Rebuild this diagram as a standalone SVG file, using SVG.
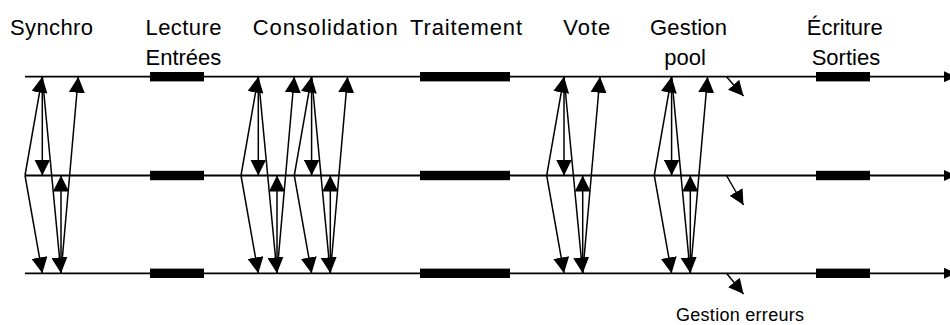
<svg xmlns="http://www.w3.org/2000/svg" width="950" height="325" viewBox="0 0 950 325">
  <style>
    .lbl { font-family: "Liberation Sans", Arial, sans-serif; font-size: 22px; fill: #000; }
    .sml { font-family: "Liberation Sans", Arial, sans-serif; font-size: 18px; fill: #000; }
    .tl { stroke: #000; stroke-width: 1.8; fill: none; }
    .msg { stroke: #000; stroke-width: 1.5; fill: none; marker-end: url(#ah); }
    .err { stroke: #000; stroke-width: 1.5; fill: none; marker-end: url(#ahs); }
    .bar { fill: #000; }
  </style>
  <defs>
    <marker id="ah" viewBox="0 0 16 16" refX="16" refY="8" markerWidth="16" markerHeight="16" markerUnits="userSpaceOnUse" orient="auto">
      <path d="M0,0 L16,8 L0,16 z" fill="#000"/>
    </marker>
    <marker id="ahs" viewBox="0 0 15 15" refX="15" refY="7.5" markerWidth="15" markerHeight="15" markerUnits="userSpaceOnUse" orient="auto">
      <path d="M0,0 L15,7.5 L0,15 z" fill="#000"/>
    </marker>
    <marker id="ahl" viewBox="0 0 12 11" refX="12" refY="5.5" markerWidth="12" markerHeight="11" markerUnits="userSpaceOnUse" orient="auto">
      <path d="M0,0 L12,5.5 L0,11 z" fill="#000"/>
    </marker>
  </defs>

  <g id="labels">
    <text class="lbl" x="10" y="35" textLength="83" lengthAdjust="spacing">Synchro</text>
    <text class="lbl" x="145.5" y="35" textLength="76" lengthAdjust="spacing">Lecture</text>
    <text class="lbl" x="145.5" y="65">Entrées</text>
    <text class="lbl" x="252.7" y="35" textLength="145" lengthAdjust="spacing">Consolidation</text>
    <text class="lbl" x="410" y="35" textLength="112" lengthAdjust="spacing">Traitement</text>
    <text class="lbl" x="563.3" y="35" textLength="47" lengthAdjust="spacing">Vote</text>
    <text class="lbl" x="650" y="35" textLength="77" lengthAdjust="spacing">Gestion</text>
    <text class="lbl" x="685" y="65" text-anchor="middle">pool</text>
    <text class="lbl" x="806.7" y="35" textLength="76" lengthAdjust="spacing">Écriture</text>
    <text class="lbl" x="811.7" y="65">Sorties</text>
    <text class="sml" x="676" y="321" textLength="128" lengthAdjust="spacing">Gestion erreurs</text>
  </g>

  <g id="timelines">
    <line class="tl" x1="25" y1="76.7" x2="956" y2="76.7" marker-end="url(#ahl)"/>
    <line class="tl" x1="25" y1="175.5" x2="956" y2="175.5" marker-end="url(#ahl)"/>
    <line class="tl" x1="25" y1="273.3" x2="956" y2="273.3" marker-end="url(#ahl)"/>
  </g>

  <g id="bars">
    <rect class="bar" x="150" y="72" width="54" height="9.4"/>
    <rect class="bar" x="420" y="72" width="90" height="9.4"/>
    <rect class="bar" x="816" y="72" width="54" height="9.4"/>
    <rect class="bar" x="150" y="170.8" width="54" height="9.4"/>
    <rect class="bar" x="420" y="170.8" width="90" height="9.4"/>
    <rect class="bar" x="816" y="170.8" width="54" height="9.4"/>
    <rect class="bar" x="150" y="268.6" width="54" height="9.4"/>
    <rect class="bar" x="420" y="268.6" width="90" height="9.4"/>
    <rect class="bar" x="816" y="268.6" width="54" height="9.4"/>
  </g>

  <g id="connectors">
    <g id="sync-synchro">
      <line class="msg" x1="25" y1="175.5" x2="42.3" y2="76.7"/>
      <line class="msg" x1="25" y1="175.5" x2="42.3" y2="273.3"/>
      <line class="msg" x1="42.3" y1="76.7" x2="42.3" y2="175.5"/>
      <line class="msg" x1="42.3" y1="76.7" x2="61" y2="273.3"/>
      <line class="msg" x1="61" y1="273.3" x2="61" y2="175.5"/>
      <line class="msg" x1="61" y1="273.3" x2="78.3" y2="76.7"/>
    </g>
    <g id="sync-consolidation-1">
      <line class="msg" x1="241" y1="175.5" x2="258.3" y2="76.7"/>
      <line class="msg" x1="241" y1="175.5" x2="258.3" y2="273.3"/>
      <line class="msg" x1="258.3" y1="76.7" x2="258.3" y2="175.5"/>
      <line class="msg" x1="258.3" y1="76.7" x2="277" y2="273.3"/>
      <line class="msg" x1="277" y1="273.3" x2="277" y2="175.5"/>
      <line class="msg" x1="277" y1="273.3" x2="294.3" y2="76.7"/>
    </g>
    <g id="sync-consolidation-2">
      <line class="msg" x1="294.3" y1="175.5" x2="311.6" y2="76.7"/>
      <line class="msg" x1="294.3" y1="175.5" x2="311.6" y2="273.3"/>
      <line class="msg" x1="311.6" y1="76.7" x2="311.6" y2="175.5"/>
      <line class="msg" x1="311.6" y1="76.7" x2="330.3" y2="273.3"/>
      <line class="msg" x1="330.3" y1="273.3" x2="330.3" y2="175.5"/>
      <line class="msg" x1="330.3" y1="273.3" x2="347.6" y2="76.7"/>
    </g>
    <g id="sync-vote">
      <line class="msg" x1="546.7" y1="175.5" x2="564" y2="76.7"/>
      <line class="msg" x1="546.7" y1="175.5" x2="564" y2="273.3"/>
      <line class="msg" x1="564" y1="76.7" x2="564" y2="175.5"/>
      <line class="msg" x1="564" y1="76.7" x2="582.7" y2="273.3"/>
      <line class="msg" x1="582.7" y1="273.3" x2="582.7" y2="175.5"/>
      <line class="msg" x1="582.7" y1="273.3" x2="600" y2="76.7"/>
    </g>
    <g id="sync-gestion-pool">
      <line class="msg" x1="654.3" y1="175.5" x2="671.6" y2="76.7"/>
      <line class="msg" x1="654.3" y1="175.5" x2="671.6" y2="273.3"/>
      <line class="msg" x1="671.6" y1="76.7" x2="671.6" y2="175.5"/>
      <line class="msg" x1="671.6" y1="76.7" x2="690.3" y2="273.3"/>
      <line class="msg" x1="690.3" y1="273.3" x2="690.3" y2="175.5"/>
      <line class="msg" x1="690.3" y1="273.3" x2="707.6" y2="76.7"/>
    </g>
    <g id="gestion-erreurs">
      <line class="err" x1="726.5" y1="76.7" x2="743.5" y2="96"/>
      <line class="err" x1="726.5" y1="175.5" x2="743.5" y2="205"/>
      <line class="err" x1="726.5" y1="273.3" x2="743.5" y2="294"/>
    </g>
  </g>
</svg>
